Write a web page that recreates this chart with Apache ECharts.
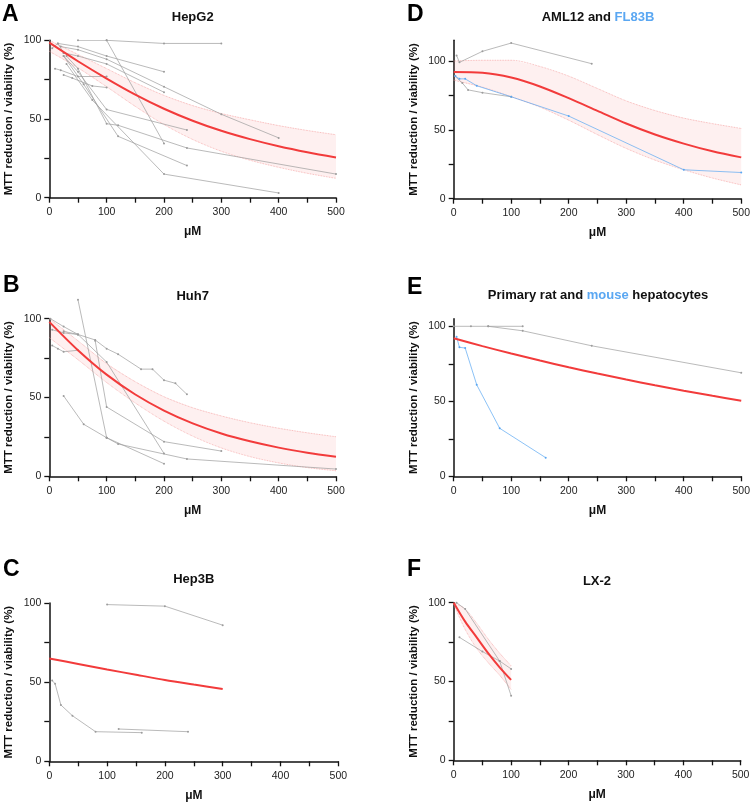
<!DOCTYPE html>
<html>
<head>
<meta charset="utf-8">
<script src="https://cdn.jsdelivr.net/npm/echarts@6/dist/echarts.min.js"></script>
<style>
  html, body { margin: 0; padding: 0; background: #fff; }
  #chart { width: 753px; height: 803px; }
</style>
</head>
<body>
<div id="chart"></div>
<script>
const fitDoses = [0, 50, 100, 150, 200, 250, 300, 350, 400, 450, 500];
const hep3bDoses = [0, 50, 100, 150, 200, 250, 300];
const lx2Doses = [0, 20, 40, 60, 80, 100];

// A - HepG2
const hepg2Fit = [98.5, 86.7, 75.7, 65.5, 56.5, 48.9, 42.5, 37.2, 32.7, 28.9, 25.6];
const hepg2Upper = [100, 91, 82, 73, 65, 58.5, 53.5, 49.5, 45.8, 42.7, 40];
const hepg2Lower = [93, 82.5, 70.5, 58, 46.5, 37, 29.5, 23.8, 19.3, 15.5, 12.3];
const hepg2Lines = [
  [[50, 100], [100, 100], [200, 98], [300, 98]],
  [[100, 100], [200, 34.5]],
  [[15, 98], [50, 96], [100, 90], [200, 80]],
  [[20, 96], [50, 94], [100, 88], [200, 70.5], [300, 53], [400, 38]],
  [[25, 92], [50, 90], [100, 85], [200, 67]],
  [[10, 82], [20, 81], [50, 77], [100, 77]],
  [[25, 78], [40, 76], [75, 71], [100, 70]],
  [[25, 90], [50, 80], [100, 56], [240, 43]],
  [[30, 90], [50, 82], [100, 47], [120, 46], [240, 31.6], [500, 15]],
  [[25, 90], [60, 72], [120, 39], [240, 20.4]],
  [[30, 85], [75, 62], [200, 15], [400, 3]],
  [[5, 95], [15, 98], [25, 92]]
];

// B - Huh7
const huh7Fit = [98, 80, 64.5, 51.9, 41.7, 33.6, 27.2, 22.2, 18.2, 15, 12.4];
const huh7Upper = [100, 86, 71.5, 60, 50.5, 43.5, 38.3, 34, 30.5, 27.6, 25.1];
const huh7Lower = [88, 74, 59.5, 46.5, 35, 25.5, 18, 12.5, 8.5, 5.5, 3.5];
const huh7Lines = [
  [[2, 100], [25, 95], [50, 90]],
  [[5, 93], [25, 91], [50, 90], [80, 86.5], [100, 81], [120, 77.5], [160, 68], [180, 68], [200, 61], [220, 59], [240, 52]],
  [[25, 92], [50, 90], [100, 72.5], [200, 14.5]],
  [[80, 86], [100, 44], [200, 22], [300, 16]],
  [[25, 51], [60, 33], [100, 24.5], [200, 8]],
  [[100, 24.5], [120, 20.5], [240, 11], [500, 4.6]],
  [[5, 83], [15, 81], [25, 79], [50, 80]]
];
const huh7SteepLine = [[50, 112], [100, 24.5]];

// C - Hep3B
const hep3bFit = [65, 61.5, 58, 54.7, 51.4, 48.5, 45.7];
const hep3bLines = [
  [[100, 99], [200, 98], [300, 86]],
  [[5, 51], [10, 49], [20, 35.6], [40, 28.8], [80, 18.7], [160, 18.1]],
  [[120, 20.4], [240, 18.7]]
];

// D - AML12 (grey) and FL83B (blue)
const amlFit = [92, 91.5, 88, 81.5, 73, 63.8, 54.6, 46.6, 40, 34.4, 30];
const amlUpper = [100, 100.5, 100.5, 96, 89, 80, 71, 64, 58.5, 54.5, 51];
const amlLower = [86, 81, 74, 66.5, 57, 46.5, 36.5, 28, 21, 15, 10];
const aml12Lines = [
  [[5, 104], [10, 99], [50, 107], [100, 113], [240, 98]],
  [[2, 89], [15, 84], [25, 79], [50, 77], [100, 74]]
];
const fl83bLine = [[3, 89], [10, 87], [20, 87], [40, 82], [100, 74], [200, 60], [400, 21], [500, 19]];

// E - primary rat (grey) and mouse (blue) hepatocytes
const primaryFit = [92, 86.8, 81.85, 77.15, 72.7, 68.5, 64.5, 60.7, 57.1, 53.65, 50.4];
const ratLines = [
  [[0, 100], [30, 100], [60, 100], [120, 100]],
  [[60, 100], [120, 97], [240, 87], [500, 69]]
];
const mouseLine = [[5, 93], [10, 86], [20, 85.5], [40, 61], [80, 32], [160, 12.4]];

// F - LX-2
const lx2Fit = [100, 88, 78, 68, 59, 51];
const lx2Upper = [100, 96, 87, 77, 68, 60];
const lx2Lower = [99, 83, 71, 62, 54, 45];
const lx2Lines = [
  [[5, 100], [20, 96], [80, 63], [100, 41]],
  [[10, 78], [50, 69], [80, 63], [100, 58]]
];

const FONT = '"Liberation Sans", Arial, Helvetica, sans-serif';
const GREY = '#9c9c9c';
const BLUE = '#5aa7f2';
const RED = '#f23b3b';

// grid rects: left, top, width, height  (order A, B, C, D, E, F)
const grids = [
  [49.3, 40.3, 286.7, 157.4],
  [49.3, 318.7, 286.7, 157.6],
  [49.3, 603, 289, 158.3],
  [453.7, 40.3, 289, 158.4],
  [453.7, 318.8, 289, 157.5],
  [453.7, 602.7, 287, 157.6]
];
const yMax = [100, 100, 100, 115, 105, 100];

const zip = (xs, ys) => xs.map((x, i) => [x, ys[i]]);

function xAxisFor(idx) {
  return {
    gridIndex: idx, type: 'value', min: 0, max: 500, interval: 50,
    name: 'μM', nameLocation: 'middle', nameGap: 28,
    nameTextStyle: { fontWeight: 'bold', fontSize: 12, color: '#111', fontFamily: FONT },
    axisLine: { show: true, onZero: false, lineStyle: { color: '#111', width: 1.5 } },
    axisTick: { show: true, length: 5, lineStyle: { color: '#111', width: 1.3 } },
    axisLabel: { fontSize: 10.5, color: '#222', margin: 9, fontFamily: FONT,
      formatter: v => (v % 100 === 0 ? String(v) : '') },
    splitLine: { show: false }
  };
}

function yAxisFor(idx) {
  return {
    gridIndex: idx, type: 'value', min: 0, max: yMax[idx], interval: 25,
    name: 'MTT reduction / viability (%)', nameLocation: 'middle', nameGap: 34,
    nameTextStyle: { fontWeight: 'bold', fontSize: 11.5, color: '#111', fontFamily: FONT },
    axisLine: { show: true, onZero: false, lineStyle: { color: '#111', width: 1.5 } },
    axisTick: { show: true, length: 5, lineStyle: { color: '#111', width: 1.3 },
      customValues: [0, 25, 50, 75, 100] },
    axisLabel: { fontSize: 10.5, color: '#222', margin: 8, fontFamily: FONT,
      customValues: [0, 50, 100],
      formatter: v => (v % 50 === 0 && v <= 100 ? String(v) : '') },
    splitLine: { show: false }
  };
}

function greyLines(idx, lines, color) {
  return lines.map(pts => ({
    type: 'line', xAxisIndex: idx, yAxisIndex: idx, data: pts,
    symbol: 'circle', symbolSize: 2, z: 3, silent: true,
    lineStyle: { color: color, width: 0.7 }, itemStyle: { color: color }
  }));
}

function fitLine(idx, doses, vals) {
  return {
    type: 'line', xAxisIndex: idx, yAxisIndex: idx, data: zip(doses, vals),
    smooth: 0.3, showSymbol: false, z: 5, silent: true,
    lineStyle: { color: RED, width: 2 }
  };
}

function band(idx, doses, upper, lower) {
  const edge = vals => ({
    type: 'line', xAxisIndex: idx, yAxisIndex: idx, data: zip(doses, vals),
    smooth: 0.3, showSymbol: false, z: 2, silent: true,
    lineStyle: { color: '#f5a3a3', width: 0.8, type: 'dotted' }
  });
  return [{
    type: 'custom', xAxisIndex: idx, yAxisIndex: idx, data: [[0, 0]], z: 1, clip: true, silent: true,
    renderItem: (params, api) => {
      const pts = [];
      doses.forEach((d, k) => pts.push(api.coord([d, upper[k]])));
      for (let k = doses.length - 1; k >= 0; k--) pts.push(api.coord([doses[k], lower[k]]));
      return { type: 'polygon', shape: { points: pts }, style: { fill: 'rgba(250,140,140,0.13)' } };
    }
  }, edge(upper), edge(lower)];
}

const series = [].concat(
  band(0, fitDoses, hepg2Upper, hepg2Lower),
  greyLines(0, hepg2Lines, GREY),
  [fitLine(0, fitDoses, hepg2Fit)],

  band(1, fitDoses, huh7Upper, huh7Lower),
  greyLines(1, huh7Lines, GREY),
  greyLines(1, [huh7SteepLine], GREY).map(s => Object.assign(s, { clip: false })),
  [fitLine(1, fitDoses, huh7Fit)],

  greyLines(2, hep3bLines, GREY),
  [fitLine(2, hep3bDoses, hep3bFit)],

  band(3, fitDoses, amlUpper, amlLower),
  greyLines(3, aml12Lines, GREY),
  greyLines(3, [fl83bLine], BLUE),
  [fitLine(3, fitDoses, amlFit)],

  greyLines(4, ratLines, GREY),
  greyLines(4, [mouseLine], BLUE),
  [fitLine(4, fitDoses, primaryFit)],

  band(5, lx2Doses, lx2Upper, lx2Lower),
  greyLines(5, lx2Lines, GREY),
  [fitLine(5, lx2Doses, lx2Fit)]
);

const titleFont = 'bold 13px ' + FONT;
const titles = [
  { x: 192.7, y: 17, text: '{k|HepG2}' },
  { x: 192.7, y: 296, text: '{k|Huh7}' },
  { x: 193.8, y: 579, text: '{k|Hep3B}' },
  { x: 598, y: 17, text: '{k|AML12 and }{b|FL83B}' },
  { x: 598, y: 295, text: '{k|Primary rat and }{b|mouse}{k| hepatocytes}' },
  { x: 597, y: 581.5, text: '{k|LX-2}' }
];
const letters = [
  { x: 2, y: 15, text: 'A' }, { x: 3, y: 286, text: 'B' }, { x: 3, y: 570, text: 'C' },
  { x: 407, y: 15, text: 'D' }, { x: 407, y: 288, text: 'E' }, { x: 407, y: 570, text: 'F' }
];

const graphic = titles.map(t => ({
  type: 'text', x: t.x, y: t.y, silent: true,
  style: {
    text: t.text, align: 'center', verticalAlign: 'middle',
    rich: {
      k: { font: titleFont, fill: '#111' },
      b: { font: titleFont, fill: BLUE }
    }
  }
})).concat(letters.map(l => ({
  type: 'text', x: l.x, y: l.y, silent: true,
  style: { text: l.text, font: 'bold 23px ' + FONT, fill: '#000', align: 'left', verticalAlign: 'middle' }
})));

const myChart = echarts.init(document.getElementById('chart'), null, { renderer: 'canvas' });
myChart.setOption({
  animation: false,
  backgroundColor: '#fff',
  textStyle: { fontFamily: FONT },
  grid: grids.map(g => ({ left: g[0], top: g[1], width: g[2], height: g[3], containLabel: false })),
  xAxis: grids.map((g, i) => xAxisFor(i)),
  yAxis: grids.map((g, i) => yAxisFor(i)),
  graphic: graphic,
  series: series
});
</script>
</body>
</html>
